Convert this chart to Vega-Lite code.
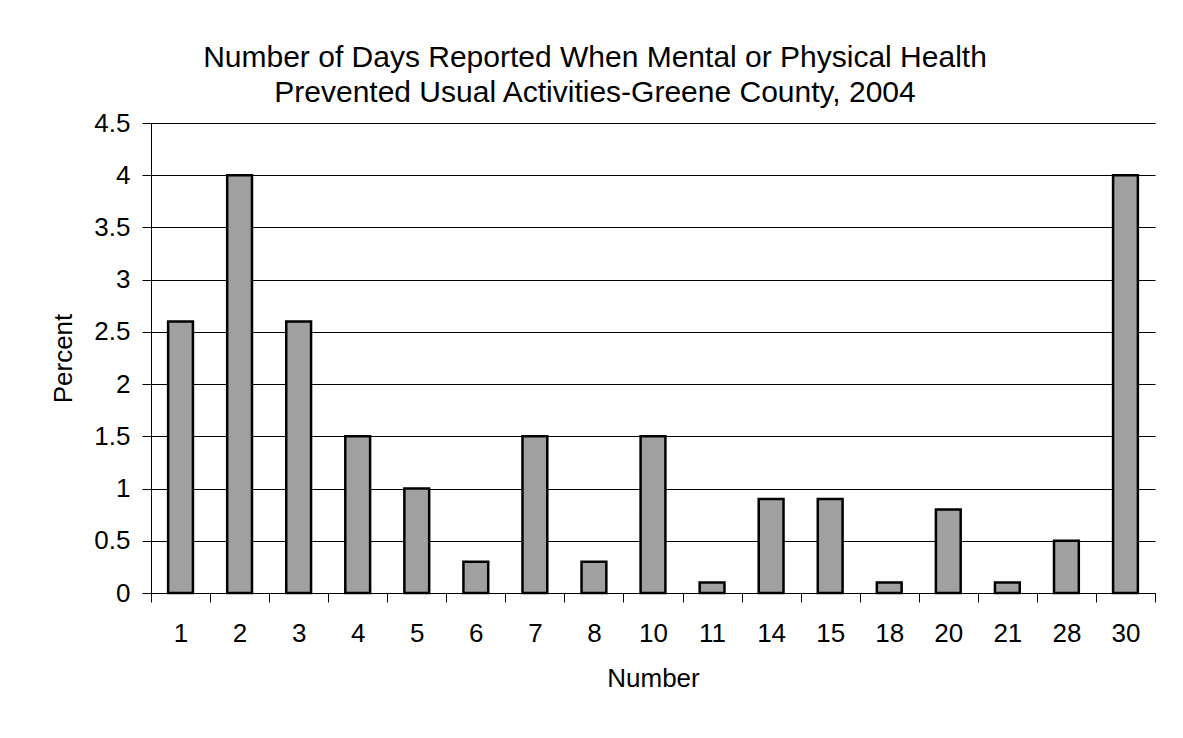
{
  "$schema": "https://vega.github.io/schema/vega-lite/v6.json",
  "width": 1004,
  "height": 470,
  "autosize": {"type": "none"},
  "padding": {"left": 151, "top": 123, "right": 28, "bottom": 145},
  "background": "white",
  "title": {
    "text": ["Number of Days Reported When Mental or Physical Health", "Prevented Usual Activities-Greene County, 2004"],
    "font": "Liberation Sans",
    "fontSize": 30,
    "fontWeight": "normal",
    "color": "black",
    "lineHeight": 35,
    "anchor": "middle",
    "dx": -58,
    "offset": 2
  },
  "data": {
    "values": [
      {"Number": 1, "Percent": 2.6},
      {"Number": 2, "Percent": 4},
      {"Number": 3, "Percent": 2.6},
      {"Number": 4, "Percent": 1.5},
      {"Number": 5, "Percent": 1},
      {"Number": 6, "Percent": 0.3},
      {"Number": 7, "Percent": 1.5},
      {"Number": 8, "Percent": 0.3},
      {"Number": 10, "Percent": 1.5},
      {"Number": 11, "Percent": 0.1},
      {"Number": 14, "Percent": 0.9},
      {"Number": 15, "Percent": 0.9},
      {"Number": 18, "Percent": 0.1},
      {"Number": 20, "Percent": 0.8},
      {"Number": 21, "Percent": 0.1},
      {"Number": 28, "Percent": 0.5},
      {"Number": 30, "Percent": 4}
    ]
  },
  "mark": {
    "type": "bar",
    "fill": "#a0a0a0",
    "stroke": "black",
    "strokeWidth": 2.5,
    "width": {"band": 0.42}
  },
  "encoding": {
    "x": {
      "field": "Number",
      "type": "ordinal",
      "sort": null,
      "scale": {"paddingInner": 0, "paddingOuter": 0},
      "axis": {
        "title": "Number",
        "labelAngle": 0,
        "tickBand": "extent",
        "tickSize": 9,
        "labelPadding": 18,
        "titlePadding": 19,
        "grid": false
      }
    },
    "y": {
      "field": "Percent",
      "type": "quantitative",
      "scale": {"domain": [0, 4.5], "nice": false},
      "axis": {
        "title": "Percent",
        "values": [0, 0.5, 1, 1.5, 2, 2.5, 3, 3.5, 4, 4.5],
        "format": "~g",
        "tickSize": 9,
        "labelPadding": 12,
        "titlePadding": 17,
        "grid": true
      }
    }
  },
  "config": {
    "view": {"stroke": null},
    "axis": {
      "labelFont": "Liberation Sans",
      "labelFontSize": 26,
      "labelColor": "black",
      "titleFont": "Liberation Sans",
      "titleFontSize": 26,
      "titleFontWeight": "normal",
      "titleColor": "black",
      "domainColor": "black",
      "domainWidth": 1,
      "tickColor": "black",
      "tickWidth": 1,
      "gridColor": "black",
      "gridWidth": 1,
      "gridOpacity": 1
    }
  }
}
